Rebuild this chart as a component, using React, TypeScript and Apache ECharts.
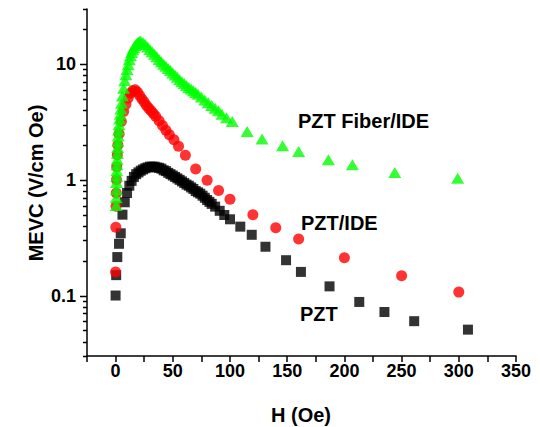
import React, { useEffect, useRef } from "react";
import * as echarts from "echarts";

// H (Oe), MEVC (V/cm Oe)
const pztH = [0, 0.5, 1.5, 3, 4.5, 6, 8, 10, 12, 14, 16, 18, 20, 22, 24, 26, 28, 30, 32, 34, 36, 38, 40, 42, 44, 46, 48, 50, 52, 54, 56, 58, 60, 62, 64, 66, 68, 70, 72, 74, 76, 78, 80, 82, 84, 87, 91, 95, 100, 109, 119, 131, 149, 162, 187, 213, 235, 261, 308];
const pztV = [0.1, 0.15, 0.215, 0.28, 0.345, 0.5, 0.64, 0.77, 0.89, 0.98, 1.06, 1.12, 1.16, 1.2, 1.23, 1.26, 1.28, 1.3, 1.3, 1.3, 1.28, 1.27, 1.25, 1.21, 1.19, 1.15, 1.12, 1.09, 1.06, 1.03, 1.0, 0.97, 0.94, 0.91, 0.89, 0.86, 0.835, 0.8, 0.78, 0.76, 0.73, 0.7, 0.67, 0.645, 0.62, 0.587, 0.54, 0.497, 0.456, 0.394, 0.335, 0.264, 0.202, 0.16, 0.12, 0.088, 0.072, 0.06, 0.0507];

const ideH = [0, 0.2, 0.4, 0.6, 0.8, 1.0, 1.5, 2, 3, 5, 7, 9, 11, 13, 15, 17, 19, 21, 23, 25, 27, 29, 31, 33, 35, 38, 41, 44, 47, 51, 55, 61, 70, 80, 90, 100, 120, 140, 160, 200, 250, 300];
const ideV = [0.16, 0.39, 0.59, 0.77, 1.0, 1.3, 1.65, 2.0, 2.5, 3.2, 3.9, 4.5, 5.1, 5.6, 5.9, 6.0, 5.75, 5.35, 5.0, 4.7, 4.4, 4.15, 3.95, 3.75, 3.55, 3.25, 2.95, 2.68, 2.45, 2.22, 1.95, 1.63, 1.24, 0.99, 0.81, 0.68, 0.5, 0.386, 0.308, 0.212, 0.148, 0.107];

const fiberH = [0.5, 0.6, 0.7, 0.8, 0.9, 1.0, 1.2, 1.4, 1.6, 1.8, 2.0, 2.3, 2.6, 3.0, 3.5, 4, 4.6, 5.2, 6, 7, 8, 9, 10, 11, 12, 13, 14, 15, 16, 17, 18, 19, 20, 21, 22, 24, 26, 28, 30, 32, 34, 36, 38, 40, 42, 44, 46, 48, 50, 52, 54, 56, 58, 60, 62, 64, 66, 68, 70, 72, 75, 78, 81, 84, 87, 90, 93, 97, 102, 115, 128, 146, 160, 186, 207, 244, 299];
const fiberV = [0.6, 0.7, 0.82, 0.95, 1.08, 1.2, 1.35, 1.5, 1.7, 1.9, 2.15, 2.4, 2.7, 3.0, 3.35, 3.7, 4.1, 4.6, 5.3, 6.2, 7.2, 8.1, 9.0, 9.9, 10.9, 11.8, 12.6, 13.3, 13.9, 14.5, 14.9, 15.3, 15.5, 15.7, 15.8, 15.4, 14.8, 14.1, 13.4, 12.8, 12.2, 11.6, 11.0, 10.5, 10.0, 9.6, 9.2, 8.8, 8.4, 8.05, 7.7, 7.35, 7.05, 6.8, 6.55, 6.3, 6.1, 5.9, 5.7, 5.5, 5.2, 4.9, 4.65, 4.4, 4.15, 3.95, 3.7, 3.45, 3.2, 2.62, 2.25, 1.97, 1.76, 1.49, 1.35, 1.16, 1.03];

const X_MIN = -25;
const X_MAX = 350;
const X_TICK_STEP = 25;
const Y_MIN = 0.03;
const Y_MAX = 30;
const xLabelValues = [0, 50, 100, 150, 200, 250, 300, 350];
const yMajorTicks = [0.1, 1, 10];
const yMinorTicks = [0.03, 0.04, 0.05, 0.06, 0.07, 0.08, 0.09, 0.2, 0.3, 0.4, 0.5, 0.6, 0.7, 0.8, 0.9, 2, 3, 4, 5, 6, 7, 8, 9, 20, 30];

const FONT = "'Liberation Sans', Arial, Helvetica, sans-serif";
const MAJOR_LEN = 7;
const MINOR_LEN = 4;
const LINE_W = 1.5;

const zip = (a: number[], b: number[]) => a.map((v, i) => [v, b[i]]);

export default function App() {
  const ref = useRef<HTMLDivElement>(null);
  useEffect(() => {
    if (!ref.current) return;
    const chart = echarts.init(ref.current, undefined, { renderer: "svg" });
    const labelStyle = { color: "#000", fontFamily: FONT, fontWeight: "bold" as const, fontSize: 18 };
    const axisStroke = { color: "#000", width: LINE_W };

    const texts = [
      { type: "text", x: 301, y: 415, style: { text: "H (Oe)", fill: "#000", font: `bold 20px ${FONT}`, align: "center", verticalAlign: "middle" } },
      { type: "text", x: 36, y: 183, rotation: Math.PI / 2, style: { text: "MEVC (V/cm Oe)", fill: "#000", font: `bold 20px ${FONT}`, align: "center", verticalAlign: "middle" } },
      { type: "text", x: 298, y: 121, style: { text: "PZT Fiber/IDE", fill: "#000", font: `bold 20px ${FONT}`, verticalAlign: "middle" } },
      { type: "text", x: 301, y: 223, style: { text: "PZT/IDE", fill: "#000", font: `bold 20px ${FONT}`, verticalAlign: "middle" } },
      { type: "text", x: 300, y: 314, style: { text: "PZT", fill: "#000", font: `bold 20px ${FONT}`, verticalAlign: "middle" } },
    ];

    chart.setOption({
      animation: false,
      backgroundColor: "#fff",
      grid: { left: 87, right: 24, top: 9, bottom: 71, containLabel: false },
      xAxis: {
        type: "value",
        min: X_MIN,
        max: X_MAX,
        interval: X_TICK_STEP,
        position: "bottom",
        axisLine: { show: true, onZero: false, lineStyle: axisStroke },
        axisTick: { show: true, length: 6, lineStyle: axisStroke },
        axisLabel: { customValues: xLabelValues, margin: 6, ...labelStyle },
        splitLine: { show: false },
      },
      yAxis: {
        type: "log",
        logBase: 10,
        min: Y_MIN,
        max: Y_MAX,
        position: "left",
        axisLine: { show: true, onZero: false, lineStyle: axisStroke },
        axisTick: { show: false },
        axisLabel: {
          customValues: yMajorTicks,
          margin: 11,
          formatter: (v: number) => String(v),
          ...labelStyle,
        },
        splitLine: { show: false },
      },
      series: [
        {
          type: "scatter",
          name: "PZT",
          data: zip(pztH, pztV),
          symbol: "rect",
          symbolSize: 10,
          itemStyle: { color: "#000000" },
          z: 3,
        },
        {
          type: "scatter",
          name: "PZT/IDE",
          data: zip(ideH, ideV),
          symbol: "circle",
          symbolSize: 11,
          itemStyle: { color: "#ff0000" },
          z: 4,
        },
        {
          type: "scatter",
          name: "PZT Fiber/IDE",
          data: zip(fiberH, fiberV),
          symbol: "triangle",
          symbolSize: [13, 11],
          itemStyle: { color: "#00ff00" },
          z: 5,
        },
      ],
      graphic: texts,
    });

    // y tick marks (decades and 2..9 subdivisions) positioned through the chart's own log scale
    const finder = { gridIndex: 0 };
    const lines: any[] = [];
    const yTick = (v: number, len: number) => {
      const p = chart.convertToPixel(finder, [X_MIN, v]) as number[];
      if (!p) return;
      const y = Math.round(p[1]) + 0.5;
      lines.push({
        type: "line",
        z: 100,
        shape: { x1: p[0] - len, y1: y, x2: p[0], y2: y },
        style: { stroke: "#000", lineWidth: LINE_W },
      });
    };
    yMajorTicks.forEach((v) => yTick(v, MAJOR_LEN));
    yMinorTicks.forEach((v) => yTick(v, MINOR_LEN));

    chart.setOption({ graphic: [...texts, ...lines] });

    return () => chart.dispose();
  }, []);
  return <div ref={ref} style={{ position: "fixed", left: 0, top: 0, width: 540, height: 427 }} />;
}
